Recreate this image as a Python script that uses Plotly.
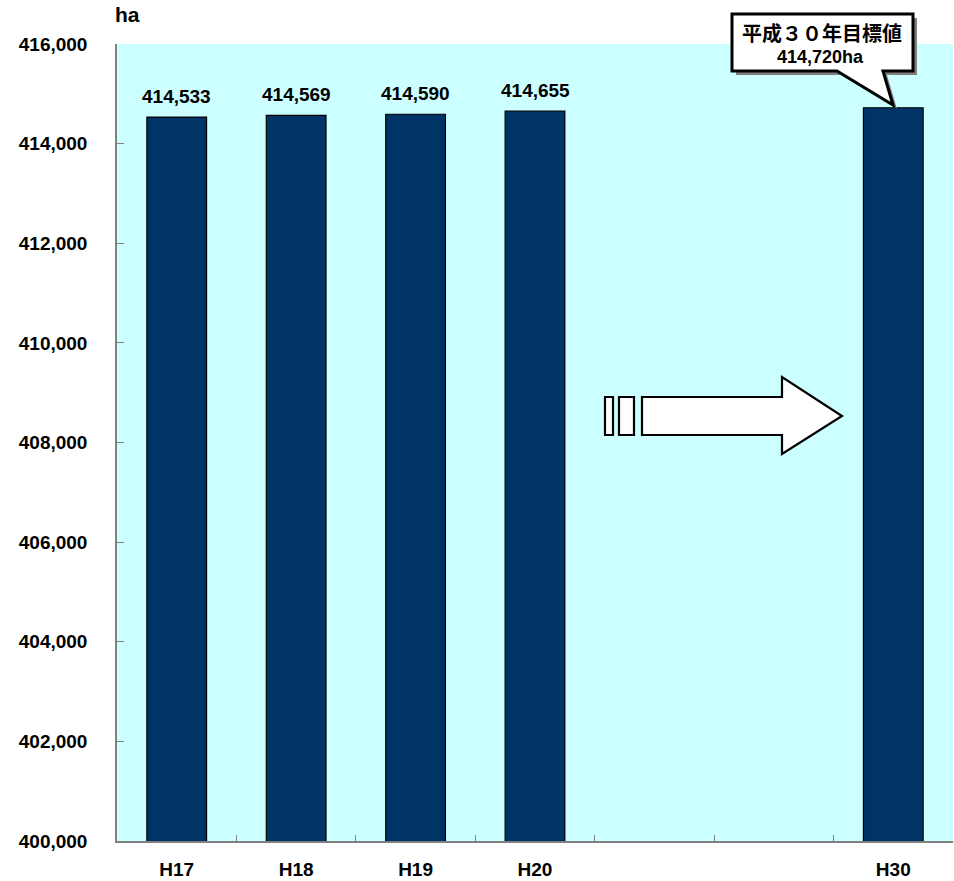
import plotly.graph_objects as go

# Farmland area (ha) by fiscal year, with the H30 target
categories = ["H17", "H18", "H19", "H20", " ", "  ", "H30"]
area_ha = [414533, 414569, 414590, 414655, None, None, 414720]
label_years = ["H17", "H18", "H19", "H20"]
y_ticks = [400000, 402000, 404000, 406000, 408000, 410000, 412000, 414000, 416000]
target_title = "平成３０年目標値"
target_value = 414720

FONT = "Liberation Sans, Arial, Noto Sans CJK JP, sans-serif"
JP_FONT = "Noto Sans CJK JP, Liberation Sans, sans-serif"

W, H = 954, 881
L, R, T, B = 117, 1, 44, 40
PW, PH = W - L - R, H - T - B


def px(x):
    return (x - L) / PW


def py(y):
    return (H - B - y) / PH


fig = go.Figure()
fig.add_trace(go.Bar(
    x=categories, y=area_ha, width=0.5,
    marker=dict(color="#003366", line=dict(color="#000000", width=1.2)),
    hoverinfo="skip", showlegend=False,
))

annotations = []
for cat, val in zip(categories, area_ha):
    if cat in label_years and val is not None:
        annotations.append(dict(
            x=cat, y=val, xref="x", yref="y", text=f"{val:,}",
            showarrow=False, yanchor="bottom", yshift=8,
            font=dict(family=FONT, size=19, color="#000000", weight="bold"),
        ))

# unit label
annotations.append(dict(
    x=px(113), y=py(15), xref="paper", yref="paper", text="ha",
    showarrow=False, xanchor="left", yanchor="middle",
    font=dict(family=FONT, size=21, color="#000000", weight="bold"),
))

# callout text for the target
annotations.append(dict(
    x=px(822), y=py(32), xref="paper", yref="paper", text=target_title,
    showarrow=False, xanchor="center", yanchor="middle",
    font=dict(family=JP_FONT, size=20, color="#000000", weight="bold"),
))
annotations.append(dict(
    x=px(820), y=py(57), xref="paper", yref="paper", text=f"{target_value:,}ha",
    showarrow=False, xanchor="center", yanchor="middle",
    font=dict(family=FONT, size=18, color="#000000", weight="bold"),
))


def path(points):
    return "M " + " L ".join(f"{px(x):.5f},{py(y):.5f}" for x, y in points) + " Z"


shapes = []
# speech bubble: shadow then body
bubble = [(732, 14), (913, 14), (913, 71), (883, 71), (893, 105), (837, 71), (732, 71)]
shadow = [(x + 4, y + 4) for x, y in bubble]
shapes.append(dict(type="path", xref="paper", yref="paper", path=path(shadow),
                   fillcolor="#808080", line=dict(width=0), layer="above"))
shapes.append(dict(type="path", xref="paper", yref="paper", path=path(bubble),
                   fillcolor="#FFFFFF", line=dict(color="#000000", width=3), layer="above"))

# block arrow with two bars at its tail
arrow = [(642, 397), (782, 397), (782, 377), (842, 416), (782, 454), (782, 435), (642, 435)]
shapes.append(dict(type="path", xref="paper", yref="paper", path=path(arrow),
                   fillcolor="#FFFFFF", line=dict(color="#000000", width=2.2), layer="above"))
for x0, x1 in [(605, 613), (619, 634)]:
    shapes.append(dict(type="rect", xref="paper", yref="paper",
                       x0=px(x0), x1=px(x1), y0=py(435), y1=py(397),
                       fillcolor="#FFFFFF", line=dict(color="#000000", width=2.2), layer="above"))

fig.update_layout(
    width=W, height=H,
    margin=dict(l=L, r=R, t=T, b=B, pad=0, autoexpand=False),
    paper_bgcolor="#FFFFFF",
    plot_bgcolor="#CCFFFF",
    bargap=0.5,
    annotations=annotations,
    shapes=shapes,
    xaxis=dict(
        type="category", categoryorder="array", categoryarray=categories,
        tickson="boundaries", ticks="inside", ticklen=6, tickcolor="#808080", tickwidth=1,
        showline=True, linecolor="#808080", linewidth=1.5,
        showgrid=False, zeroline=False, ticklabelstandoff=10, automargin=False,
        tickfont=dict(family=FONT, size=19, color="#000000", weight="bold"),
        range=[-0.5, 6.5],
    ),
    yaxis=dict(
        range=[400000, 416000], tickvals=y_ticks, tickformat=",d",
        ticks="inside", ticklen=7, tickcolor="#808080", tickwidth=1,
        showline=True, linecolor="#808080", linewidth=1.5,
        showgrid=False, zeroline=False, ticklabelstandoff=24, automargin=False,
        tickfont=dict(family=FONT, size=19, color="#000000", weight="bold"),
    ),
)

fig.write_html("out.html")
